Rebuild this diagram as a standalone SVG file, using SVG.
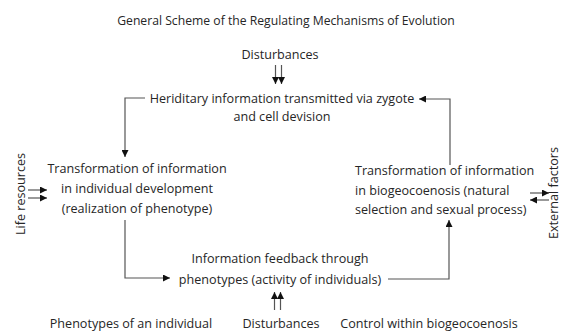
<svg xmlns="http://www.w3.org/2000/svg" width="562" height="331" viewBox="0 0 562 331">
<style>
text{font-family:"Open Sans","Liberation Sans",sans-serif;font-size:12.6px;fill:#262626}
.c{text-anchor:middle}
.t{font-size:12.2px}
.ln{fill:none;stroke:#555;stroke-width:1.2}
</style>
<defs>
<marker id="ah" viewBox="0 0 10 10" refX="10" refY="5" markerWidth="7" markerHeight="7" markerUnits="userSpaceOnUse" orient="auto">
<path d="M0,0L10,5L0,10z" fill="#111"/>
</marker>
</defs>
<rect width="562" height="331" fill="#fff"/>
<text class="c t" x="286" y="25">General Scheme of the Regulating Mechanisms of Evolution</text>
<g id="dist-top"><text class="c" x="280" y="59">Disturbances</text></g>
<g id="heredity"><text class="c" x="282" y="103">Heriditary information transmitted via zygote</text><text class="c" x="282" y="121">and cell devision</text></g>
<g id="individual"><text class="c" x="137" y="173">Transformation of information</text><text class="c" x="137" y="193">in individual development</text><text class="c" x="137" y="213">(realization of phenotype)</text></g>
<g id="biogeo"><text x="355" y="175">Transformation of information</text><text x="355" y="195">in biogeocoenosis (natural</text><text x="355" y="214">selection and sexual process)</text></g>
<g id="feedback"><text class="c" x="280" y="263">Information feedback through</text><text class="c" x="280" y="284">phenotypes (activity of individuals)</text></g>
<g id="life"><text class="c" transform="translate(25,194) rotate(-90)">Life resources</text></g>
<g id="external"><text class="c" transform="translate(558,193) rotate(-90)">External factors</text></g>
<g id="phen-ind"><text class="c" x="131" y="328">Phenotypes of an individual</text></g>
<g id="dist-bottom"><text class="c" x="281" y="328">Disturbances</text></g>
<g id="control"><text class="c" x="429" y="328">Control within biogeocoenosis</text></g>
<g id="connectors">
<path class="ln" d="M275.5,65V84" marker-end="url(#ah)"/>
<path class="ln" d="M281.5,65V84" marker-end="url(#ah)"/>
<path class="ln" d="M145,98H125V157" marker-end="url(#ah)"/>
<path class="ln" d="M125,220V278H170" marker-end="url(#ah)"/>
<path class="ln" d="M388,279H449V220" marker-end="url(#ah)"/>
<path class="ln" d="M450,165V99H419" marker-end="url(#ah)"/>
<path class="ln" d="M274.5,310V292" marker-end="url(#ah)"/>
<path class="ln" d="M280.5,310V292" marker-end="url(#ah)"/>
<path class="ln" d="M28,190H47" marker-end="url(#ah)"/>
<path class="ln" d="M28,198H47" marker-end="url(#ah)"/>
<path class="ln" d="M530,193H549" marker-end="url(#ah)"/>
<path class="ln" d="M549,200H530" marker-end="url(#ah)"/>
</g>
</svg>
